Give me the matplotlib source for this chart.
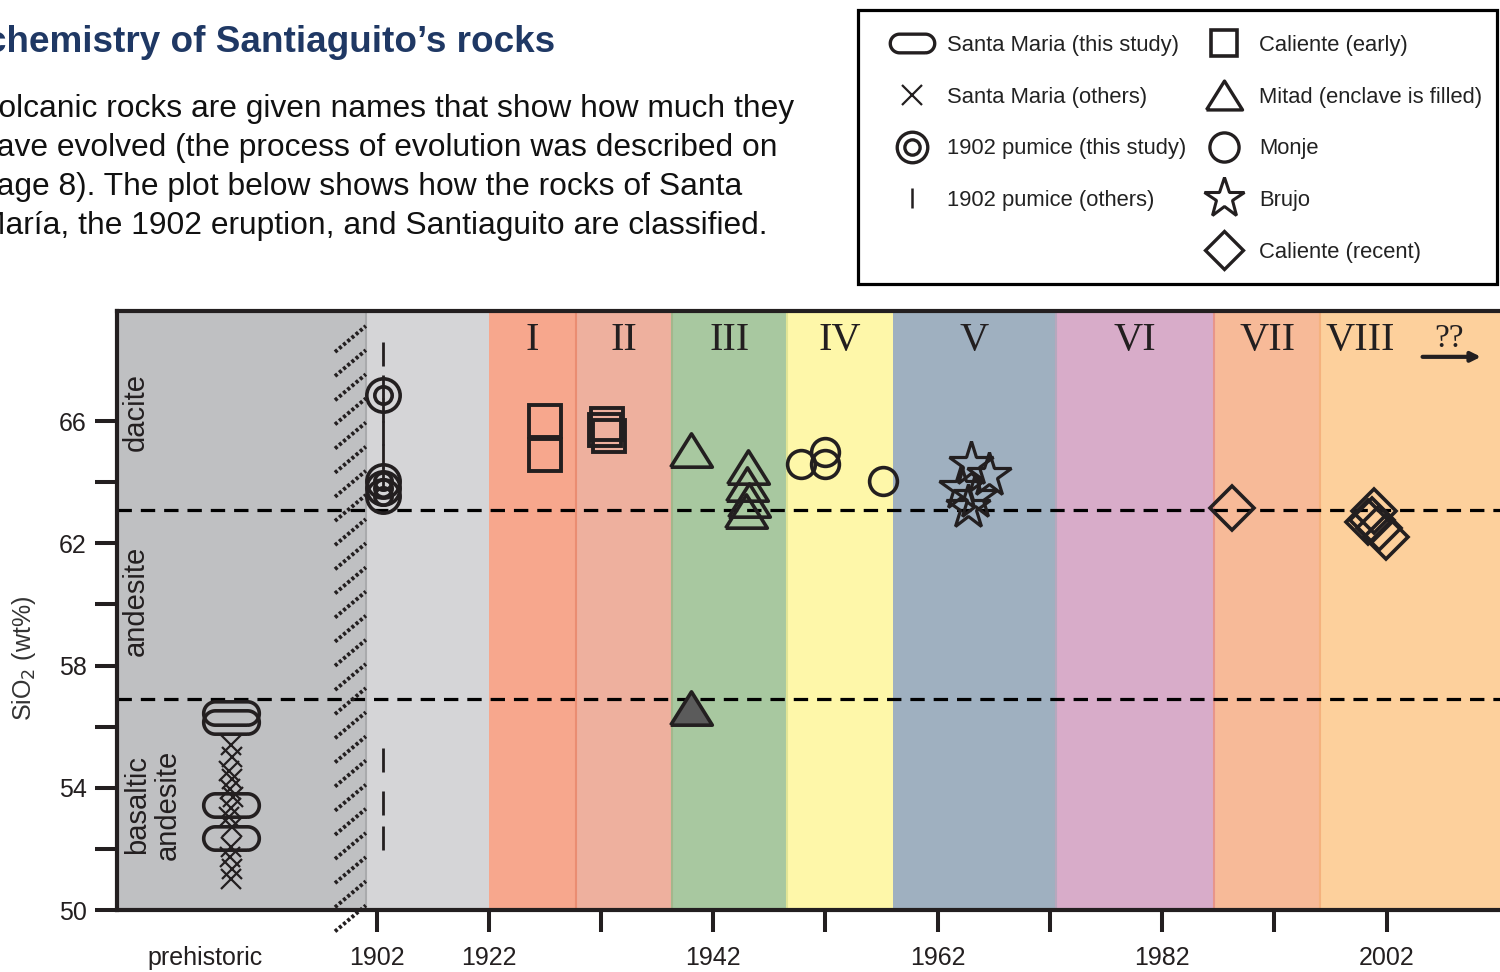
import numpy as np
import matplotlib.pyplot as plt
from matplotlib.lines import Line2D
from matplotlib.patches import Rectangle

plt.rcParams['font.family'] = ['Liberation Sans', 'DejaVu Sans']

INK = '#231f20'

# eruptive phases of Santiaguito: year boundaries, colours and names
PHASE_NAMES = ['I', 'II', 'III', 'IV', 'V', 'VI', 'VII', 'VIII']
PHASE_EDGES = [1922, 1929.8, 1938.3, 1948.6, 1958.0, 1972.5, 1986.6, 1996.1, 2013]
PHASE_COLORS = ['#f7a78d', '#eeb09e', '#a8c8a0', '#fef7a9',
                '#9fb0c0', '#d8acc9', '#f7ba98', '#fdd09c']
PHASE_LINES = ['#ea8d72', '#a3b78c', '#e2e596', None, '#b7a8bd', '#e7958a', '#f5b27e']
VIII_LABEL_YEAR = 1999.6

# rock classification boundaries (SiO2 wt%)
DACITE_MIN = 63.1
ANDESITE_MIN = 56.9

# prehistoric Santa Maria samples sit at a nominal position left of the break
PREHIST_POS = 1876
BREAK_START, BREAK_END = 1894.6, 1900.1
sm_study = [56.45, 56.15, 53.45, 52.35]
sm_others = [55.4, 55.0, 54.55, 54.3, 53.95, 53.7, 53.35, 53.05, 52.7, 52.05, 51.75, 51.35, 51.0]
sm_others_pos = [1876.0, 1876.3, 1875.7, 1876.2, 1875.8, 1876.4, 1876.0,
                 1875.7, 1876.3, 1876.0, 1875.8, 1876.2, 1876.0]

# 1902 eruption pumice
p1902_year = 1903.1
p1902_study = [66.85, 64.05, 63.8, 63.55]
p1902_others = [68.2, 67.1, 66.35, 65.6, 64.85, 64.1, 54.9, 53.5, 52.35]

# Santiaguito lavas
cal_early_year = [1927.0, 1927.0, 1932.5, 1932.7, 1932.4]
cal_early = [66.0, 64.9, 65.9, 65.5, 65.7]
mitad_year = [1940.0, 1945.1, 1945.0, 1945.2, 1944.9]
mitad = [65.05, 64.5, 63.95, 63.4, 63.05]
enclave_year = [1940.0]
enclave = [56.6]
monje_year = [1949.8, 1952.0, 1952.0, 1957.1]
monje = [64.6, 65.0, 64.6, 64.05]
brujo_year = [1965.0, 1966.6, 1964.1, 1965.3, 1964.7]
brujo = [64.6, 64.25, 63.8, 63.5, 63.2]
cal_recent_year = [1988.2, 2000.9, 2000.3, 2001.35, 2001.95, 2000.7]
cal_recent = [63.15, 63.05, 62.7, 62.5, 62.2, 62.75]

x_ticks = [1902, 1922, 1932, 1942, 1952, 1962, 1972, 1982, 1992, 2002]
x_labelled = [1902, 1922, 1942, 1962, 1982, 2002]


def fwd(year):
    # the years before the dome started are squeezed to half width
    year = np.asarray(year, float)
    return np.where(year < 1922, (year - 1922) / 2, year - 1922)


def inv(u):
    u = np.asarray(u, float)
    return np.where(u < 0, 1922 + 2 * u, 1922 + u)


def stadium(r=0.42, n=30):
    t = np.linspace(-np.pi / 2, np.pi / 2, n)
    right = np.column_stack([(1 - r) + r * np.cos(t), r * np.sin(t)])
    left = np.column_stack([-(1 - r) - r * np.cos(t), -r * np.sin(t)])
    return np.vstack([right, left, right[:1]])


STADIUM = stadium()
FLAT_TRI = [(-1, -0.8), (1, -0.8), (0, 0.8), (-1, -0.8)]

fig = plt.figure(figsize=(15, 9.72), dpi=100)
ax = fig.add_axes([117 / 1500, 62 / 972, 1383 / 1500, 599 / 972])
ax.set_xscale('function', functions=(fwd, inv))
ax.set_xlim(1855.75, 2012.1)
ax.set_ylim(50, 69.6)

# background bands
ax.axvspan(1850, BREAK_END, color='#bfc0c2', lw=0, zorder=0)
ax.axvspan(BREAK_END, PHASE_EDGES[0], color='#d5d5d7', lw=0, zorder=0)
ax.axvline(BREAK_END, color='#a9aaac', lw=1.5, zorder=0.5)
for i, name in enumerate(PHASE_NAMES):
    a, b = PHASE_EDGES[i], PHASE_EDGES[i + 1]
    ax.axvspan(a, b, color=PHASE_COLORS[i], lw=0, zorder=0)
    if i < len(PHASE_LINES) and PHASE_LINES[i]:
        ax.axvline(b, color=PHASE_LINES[i], lw=1.5, zorder=0.5)
    xm = VIII_LABEL_YEAR if name == 'VIII' else (a + b) / 2
    ax.text(xm, 68.33, name, ha='center', va='baseline', fontsize=29,
            family='Liberation Serif', color=INK)
ax.text(2007.6, 68.42, '??', ha='center', va='baseline', fontsize=24,
        family='Liberation Serif', color=INK)
ax.annotate('', xy=(2010.4, 68.1), xytext=(2005.2, 68.1),
            arrowprops=dict(arrowstyle='-|>', lw=3, color=INK, mutation_scale=14,
                            shrinkA=0, shrinkB=0))

# axis break
for y0 in np.arange(49.3, 68.8, 0.79):
    ax.plot([BREAK_START, BREAK_END], [y0, y0 + 0.85], color=INK, lw=2.8,
            ls=(0, (0.8, 0.6)), dash_capstyle='butt', clip_on=False, zorder=3)

# classification boundaries
for level in (DACITE_MIN, ANDESITE_MIN):
    ax.axhline(level, color='black', lw=2.3, ls=(0, (4.5, 2.8)), zorder=2)

tr = ax.get_yaxis_transform()
ax.text(0.0135, 66.3, 'dacite', transform=tr, rotation=90, ha='center', va='center',
        fontsize=21, color=INK)
ax.text(0.0135, 60.1, 'andesite', transform=tr, rotation=90, ha='center', va='center',
        fontsize=21, color=INK)
ax.text(0.0255, 53.45, 'basaltic\nandesite', transform=tr, rotation=90, ha='center',
        va='center', fontsize=21, color=INK, linespacing=1.15)

open_kw = dict(ls='none', mfc='none', mec=INK, zorder=4)
ax.plot(sm_others_pos, sm_others, marker='x', ms=15, mew=1.6, **open_kw)
ax.plot([PREHIST_POS] * len(sm_study), sm_study, marker=STADIUM, ms=40, mew=2.6, **open_kw)
ax.plot([p1902_year] * len(p1902_others), p1902_others, marker='|', ms=17, mew=2.0, **open_kw)
ax.plot([p1902_year] * len(p1902_study), p1902_study, marker='o', ms=24, mew=2.6, **open_kw)
ax.plot([p1902_year] * len(p1902_study), p1902_study, marker='o', ms=12.5, mew=2.6, **open_kw)
ax.plot(cal_early_year, cal_early, marker='s', ms=23, mew=2.8, **open_kw)
ax.plot(mitad_year, mitad, marker=FLAT_TRI, ms=30, mew=2.6, **open_kw)
ax.plot(enclave_year, enclave, marker=FLAT_TRI, ms=30, mew=2.6, ls='none',
        mfc='#5b5b5b', mec=INK, zorder=4)
ax.plot(monje_year, monje, marker='o', ms=20, mew=2.6, **open_kw)
ax.plot(brujo_year, brujo, marker='*', ms=33, mew=2.3, **open_kw)
ax.plot(cal_recent_year, cal_recent, marker='D', ms=22, mew=2.6, **open_kw)

# axes styling
for side in ('left', 'bottom', 'top'):
    ax.spines[side].set_linewidth(3)
    ax.spines[side].set_color(INK)
ax.spines['right'].set_visible(False)

ax.set_yticks(np.arange(50, 67, 2))
ax.set_yticklabels([str(v) if (v - 50) % 4 == 0 else '' for v in range(50, 67, 2)])
ax.set_xticks(x_ticks)
ax.set_xticklabels([str(v) if v in x_labelled else '' for v in x_ticks])
ax.minorticks_off()
ax.tick_params(axis='both', length=16, width=2.9, color=INK, labelsize=18,
               labelcolor=INK, pad=6)
ax.tick_params(axis='x', pad=10)
ax.text(1871.5, -0.06, 'prehistoric', transform=ax.get_xaxis_transform(),
        ha='center', va='top', fontsize=18, color=INK)

ax.set_ylabel('SiO$_2$ (wt%)', fontsize=18, color='#333333')
ax.yaxis.set_label_coords(-0.057, 0.42)

# heading and intro text
fig.text(555 / 1500, 1 - 52 / 972, 'Geochemistry of Santiaguito\u2019s rocks',
         ha='right', va='baseline', fontsize=26.6, fontweight='bold', color='#1f3864')
intro = ['Volcanic rocks are given names that show how much they',
         'have evolved (the process of evolution was described on',
         'page 8). The plot below shows how the rocks of Santa',
         'Mar\u00eda, the 1902 eruption, and Santiaguito are classified.']
for k, line in enumerate(intro):
    fig.text(-21 / 1500, 1 - (117 + 39 * k) / 972, line, ha='left', va='baseline',
             fontsize=22.9, color='#111111')

# legend: entries laid out by matplotlib, box drawn separately
fig.add_artist(Rectangle((858 / 1500, 1 - 284 / 972), 639 / 1500, 274 / 972,
                         transform=fig.transFigure, fc='white', ec='black', lw=2.3,
                         zorder=5))
handles = [
    Line2D([], [], marker=STADIUM, ms=32, mew=2.4, **open_kw),
    Line2D([], [], marker='x', ms=15, mew=1.6, **open_kw),
    (Line2D([], [], marker='o', ms=22, mew=2.4, **open_kw),
     Line2D([], [], marker='o', ms=11, mew=2.4, **open_kw)),
    Line2D([], [], marker='|', ms=15, mew=1.8, **open_kw),
    Line2D([], [], ls='none'),
    Line2D([], [], marker='s', ms=19, mew=2.6, **open_kw),
    Line2D([], [], marker=FLAT_TRI, ms=26, mew=2.4, **open_kw),
    Line2D([], [], marker='o', ms=21, mew=2.4, **open_kw),
    Line2D([], [], marker='*', ms=30, mew=2.2, **open_kw),
    Line2D([], [], marker='D', ms=19, mew=2.4, **open_kw),
]
labels = ['Santa Maria (this study)', 'Santa Maria (others)', '1902 pumice (this study)',
          '1902 pumice (others)', '', 'Caliente (early)', 'Mitad (enclave is filled)',
          'Monje', 'Brujo', 'Caliente (recent)']
leg = fig.legend(handles, labels, ncol=2, loc='upper left',
                 bbox_to_anchor=(883 / 1500, 1 - 35 / 972), borderaxespad=0,
                 fontsize=15.8, frameon=False, borderpad=0, labelspacing=1.4,
                 handlelength=2.6, handletextpad=0.3, columnspacing=0.45)
leg.set_zorder(6)
for t in leg.get_texts():
    t.set_color('#222222')

fig.savefig('out.png', dpi=100, facecolor='white')
